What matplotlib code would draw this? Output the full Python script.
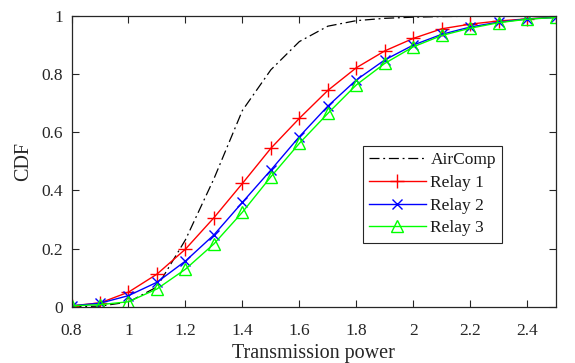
import matplotlib
matplotlib.use("Agg")
import matplotlib.pyplot as plt
import numpy as np

x = [0.8, 0.9, 1.0, 1.1, 1.2, 1.3, 1.4, 1.5, 1.6, 1.7, 1.8, 1.9, 2.0, 2.1, 2.2, 2.3, 2.4, 2.5]
aircomp = [0.0, 0.002, 0.016, 0.068, 0.23, 0.44, 0.675, 0.815, 0.912, 0.965, 0.984, 0.992, 0.996, 0.998, 0.999, 1.0, 1.0, 1.0]
relay1 = [0.003, 0.013, 0.05, 0.112, 0.198, 0.306, 0.424, 0.545, 0.648, 0.744, 0.822, 0.88, 0.923, 0.956, 0.972, 0.983, 0.99, 0.996]
relay2 = [0.003, 0.012, 0.038, 0.084, 0.157, 0.247, 0.359, 0.47, 0.585, 0.69, 0.78, 0.849, 0.9, 0.937, 0.962, 0.979, 0.99, 0.995]
relay3 = [0.003, 0.007, 0.017, 0.061, 0.129, 0.216, 0.325, 0.447, 0.562, 0.665, 0.763, 0.837, 0.894, 0.933, 0.958, 0.977, 0.989, 0.995]

xticks = [0.8, 1.0, 1.2, 1.4, 1.6, 1.8, 2.0, 2.2, 2.4]
xticklabels = ["0.8", "1", "1.2", "1.4", "1.6", "1.8", "2", "2.2", "2.4"]
yticks = [0, 0.2, 0.4, 0.6, 0.8, 1.0]
yticklabels = ["0", "0.2", "0.4", "0.6", "0.8", "1"]

plt.rcParams['font.family'] = ['Liberation Serif', 'DejaVu Serif']

fig = plt.figure(figsize=(5.75, 3.63), dpi=100)
ax = fig.add_axes([71.5/575, 1-306.7/363, (555.7-71.5)/575, (306.7-16)/363])

ax.plot(x, aircomp, color='black', linestyle=(0, (8, 3, 1.5, 3)), linewidth=0.9, label='AirComp')
ax.plot(x, relay1, color=(1, 0, 0), marker='+', markersize=10, markeredgewidth=1.0, linewidth=1.0, label='Relay 1')
ax.plot(x, relay2, color=(0, 0, 1), marker='x', markersize=7, markeredgewidth=1.0, linewidth=1.0, label='Relay 2')
ax.plot(x, relay3, color=(0, 1, 0), marker='^', markersize=9, markerfacecolor='none', markeredgewidth=1.0, linewidth=1.0, label='Relay 3')

ax.set_xlim(0.8, 2.5)
ax.set_ylim(0, 1)
ax.set_xticks(xticks)
ax.set_xticklabels(xticklabels)
ax.set_yticks(yticks)
ax.set_yticklabels(yticklabels)
axc = (0.15, 0.15, 0.15)
ax.tick_params(direction='in', length=5, width=0.8, top=True, right=True, labelsize=12.5, colors=axc, pad=6)
ax.tick_params(axis='x', pad=12)
for s in ax.spines.values():
    s.set_color(axc)
    s.set_linewidth(0.9)

ax.set_xlabel('Transmission power', fontsize=14.5, color=axc, labelpad=3)
ax.set_ylabel('CDF', fontsize=14.5, color=axc, labelpad=6)

leg = ax.legend(loc='upper left', bbox_to_anchor=((362.7-71.5)/484.2, (306.7-146)/290.7),
                fontsize=12.5, frameon=True, fancybox=False, shadow=False,
                borderpad=0.35, labelspacing=0.38, handlelength=3.3, handletextpad=0.25,
                borderaxespad=0.0, framealpha=1.0)
leg.get_frame().set_edgecolor(axc)
leg.get_frame().set_linewidth(0.8)
for t in leg.get_texts():
    t.set_color((0.1, 0.1, 0.1))

fig.savefig('out.png', dpi=100)
